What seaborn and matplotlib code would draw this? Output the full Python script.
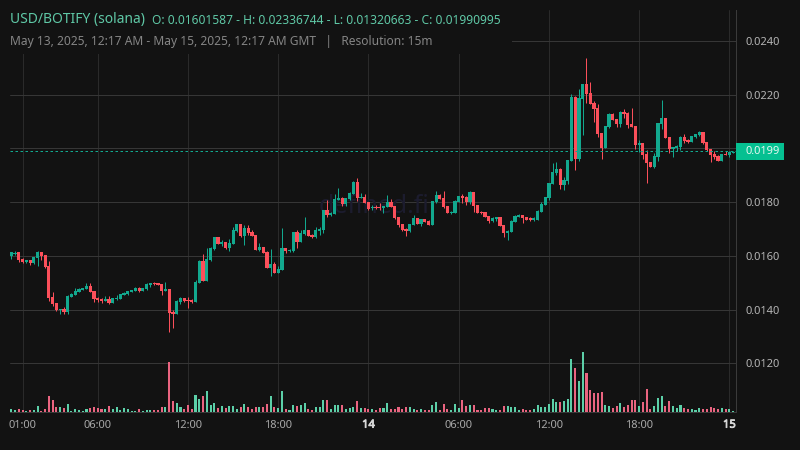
import numpy as np
import pandas as pd
import matplotlib
matplotlib.use('Agg')
import matplotlib.pyplot as plt
import matplotlib.patheffects as pe
from matplotlib.patches import Rectangle
import seaborn as sns

# 15 minute candles, prices in units of 0.0001
opens = [160.0,160.8,161.4,158.8,157.8,158.5,157.3,159.2,161.4,160.3,
         156.2,144.7,142.4,140.0,140.2,139.1,144.7,145.4,146.5,147.4,
         147.6,148.8,146.9,144.3,143.9,143.2,143.9,142.4,143.9,143.9,
         145.4,145.8,146.5,146.9,148.0,146.9,147.6,149.1,149.9,149.8,
         149.5,146.9,147.6,139.1,138.3,142.8,144.3,143.5,143.5,142.8,
         149.9,158.1,150.6,158.4,162.6,167.0,164.4,165.2,163.0,164.4,
         169.2,171.9,167.4,170.4,168.9,167.8,162.2,163.3,161.4,155.5,
         157.0,153.6,154.7,163.0,161.8,161.8,168.9,165.2,168.1,169.6,
         167.8,167.0,169.2,169.6,177.1,175.3,175.6,180.8,181.5,179.3,
         181.2,183.0,187.5,181.5,181.9,180.0,177.8,178.3,178.2,177.8,
         178.2,180.0,178.6,174.5,171.9,170.0,169.2,171.5,174.1,171.9,
         173.7,173.0,171.5,180.0,182.6,181.5,178.6,176.0,176.0,180.0,
         182.3,181.9,180.0,183.8,179.0,176.3,176.3,174.8,173.0,173.7,
         174.5,171.5,168.5,168.9,172.6,174.5,175.2,174.5,174.1,173.3,
         173.3,176.3,178.9,181.5,186.7,190.9,192.3,186.4,187.9,195.3,
         219.2,196.1,218.4,224.0,220.6,216.9,215.0,205.7,200.1,208.0,
         212.8,210.9,209.1,213.6,213.2,209.1,208.3,201.3,202.0,197.9,
         195.0,193.1,196.8,209.1,211.3,204.2,199.8,200.1,200.5,204.2,
         203.1,202.4,204.2,205.0,206.1,202.4,199.8,197.9,197.2,195.3,
         197.9,197.5,198.3]
highs = [161.4,161.8,161.4,159.2,158.5,158.5,159.6,161.8,161.4,160.3,
         158.1,146.5,142.4,140.2,140.9,145.4,146.2,148.0,148.0,148.0,
         149.9,149.9,146.9,144.7,144.3,145.0,145.0,144.3,145.4,145.8,
         146.5,146.9,147.3,148.4,148.4,148.0,149.9,149.9,150.3,149.8,
         149.5,150.3,147.6,139.8,143.5,144.7,144.3,144.7,143.9,151.0,
         158.5,160.7,162.9,163.3,167.0,167.0,165.9,165.2,166.3,170.7,
         171.9,171.9,171.5,171.5,169.6,167.8,164.8,163.3,161.8,162.6,
         157.7,156.2,170.4,163.0,162.6,168.9,169.6,169.6,174.5,169.6,
         168.1,170.7,170.7,177.1,180.8,176.3,183.0,185.3,181.9,181.5,
         183.8,187.9,189.0,183.4,183.0,180.0,179.0,179.0,179.7,178.6,
         182.6,181.2,178.6,174.5,171.9,170.4,171.9,175.2,174.1,173.7,
         173.7,173.3,180.4,184.1,183.0,184.1,178.6,176.7,180.8,182.3,
         183.0,182.3,184.1,183.8,179.0,176.7,176.3,174.8,174.5,174.5,
         174.5,171.5,169.6,173.3,175.2,175.6,175.2,174.5,174.5,174.5,
         177.1,180.0,181.9,187.1,194.6,194.9,192.7,189.3,195.7,220.3,
         219.5,222.1,224.0,233.7,224.7,217.7,216.5,205.7,208.3,213.2,
         213.2,210.9,213.9,214.7,213.6,215.0,208.3,203.1,202.0,199.4,
         195.0,198.3,209.5,218.0,211.3,204.2,200.5,201.3,204.6,205.4,
         203.5,204.6,205.4,206.5,206.1,202.4,199.8,199.0,197.6,197.9,
         199.0,199.0,199.0]
lows = [158.8,160.3,157.7,157.3,157.3,156.6,157.0,156.2,158.5,155.5,
        143.2,141.3,139.5,138.3,138.3,138.3,144.7,145.4,146.5,147.4,
        147.6,146.5,142.8,142.8,142.4,143.2,142.0,142.4,143.5,143.9,
        145.4,145.4,146.5,146.9,146.5,146.9,147.3,148.4,149.1,149.1,
        145.4,146.9,131.6,133.1,138.3,142.0,142.8,140.6,142.4,142.8,
        149.9,150.6,150.6,158.1,162.2,164.4,163.7,162.6,161.8,164.4,
        168.9,167.0,164.0,167.8,167.4,162.2,161.8,161.1,155.5,152.5,
        153.6,153.6,154.7,161.1,161.4,161.4,163.0,165.2,167.8,167.4,
        166.6,166.6,167.8,168.5,174.5,174.8,175.6,180.8,178.6,178.6,
        180.8,183.0,180.4,181.5,179.7,177.1,177.1,177.4,177.1,176.0,
        178.2,178.2,173.7,170.7,169.2,167.4,168.9,171.5,171.9,171.1,
        172.6,171.5,171.5,179.7,181.2,177.8,176.0,175.6,176.0,180.0,
        179.7,179.0,179.3,176.3,176.0,175.6,174.5,172.2,172.6,173.0,
        171.1,167.0,165.9,168.9,172.6,174.5,172.2,173.3,173.0,173.0,
        173.3,176.3,178.9,180.8,186.7,190.1,184.9,184.5,186.7,195.3,
        192.0,195.3,205.0,216.9,216.5,209.8,204.2,196.1,200.1,207.6,
        210.6,208.0,208.0,211.3,207.6,208.0,199.8,198.7,196.1,187.1,
        193.1,192.7,195.3,207.2,203.9,198.3,196.8,199.0,199.4,202.0,
        202.0,202.4,203.9,204.6,201.6,199.0,194.9,196.1,195.3,195.3,
        197.5,196.8,198.3]
closes = [161.4,161.2,158.5,157.7,158.5,157.3,159.6,161.4,160.0,155.8,
          144.3,142.0,139.8,140.2,139.1,145.0,145.8,146.9,147.6,148.0,
          148.8,146.5,143.9,143.5,143.2,143.9,142.4,144.3,144.3,145.8,
          146.2,146.9,147.3,148.0,146.9,148.0,149.5,149.9,149.5,149.1,
          146.9,147.6,138.7,138.3,143.2,144.3,143.2,143.2,142.8,150.3,
          158.1,150.6,158.8,163.0,167.0,164.4,165.2,163.0,164.8,169.6,
          171.9,167.4,170.4,168.5,167.4,162.2,163.3,161.1,155.5,157.0,
          153.6,155.1,163.0,161.8,162.2,168.9,165.2,168.5,169.6,167.4,
          167.0,169.6,170.0,177.1,175.2,176.0,181.2,181.5,179.3,181.5,
          183.4,187.5,181.5,181.9,179.7,177.4,178.2,177.8,177.8,178.6,
          180.0,178.2,174.1,171.5,169.6,169.2,171.9,174.1,171.9,173.7,
          172.6,171.5,180.4,182.6,181.2,178.2,176.0,176.3,180.4,182.3,
          181.5,180.0,183.8,178.6,176.0,176.0,174.5,173.0,174.1,174.5,
          171.1,168.5,169.2,173.0,174.8,175.2,174.1,173.3,173.3,174.1,
          176.7,179.3,181.9,187.1,191.2,192.3,186.4,188.2,195.7,219.2,
          196.1,218.8,224.0,220.3,216.5,214.7,205.4,200.1,208.3,212.8,
          210.6,209.1,213.6,212.8,208.7,208.0,201.3,202.0,197.5,194.6,
          193.1,197.2,209.5,211.3,203.9,199.8,200.5,200.9,204.2,202.8,
          202.4,204.6,205.4,206.1,202.0,199.4,197.5,196.8,195.3,197.9,
          197.5,198.7,198.7]
volumes = [9,6,9,6,3,6,6,18,3,9,
           48,36,15,15,12,24,3,9,6,3,
           9,12,15,12,9,9,18,9,15,6,
           12,9,3,3,9,3,6,6,6,6,
           15,15,150,33,27,15,9,21,9,51,
           39,48,63,21,27,12,18,12,18,18,
           9,15,24,15,9,15,15,15,24,48,
           15,12,63,9,6,21,18,21,27,9,
           6,15,15,36,36,9,21,21,21,9,
           12,15,33,12,12,9,9,6,12,12,
           27,9,9,15,9,15,15,9,6,9,
           6,6,21,30,6,24,9,6,24,12,
           36,18,21,21,6,6,12,12,9,6,
           6,18,18,15,15,6,9,6,6,9,
           21,15,15,24,39,30,30,33,39,159,
           132,93,180,117,66,57,57,60,21,18,
           12,18,27,15,21,36,36,18,30,69,
           9,18,42,48,18,33,18,12,21,12,
           9,9,6,12,9,9,15,12,9,12,
           9,9,3]

time_ticks = [3, 23, 47, 71, 95, 119, 143, 167, 191]
time_labels = ['01:00', '06:00', '12:00', '18:00', '14', '06:00', '12:00', '18:00', '15']
price_ticks = [0.0120, 0.0140, 0.0160, 0.0180, 0.0200, 0.0220, 0.0240]
price_labels = ['0.0120', '0.0140', '0.0160', '0.0180', '', '0.0220', '0.0240']
last_price = 0.01990995

BG = '#121212'
UP = '#12a88e'
DOWN = '#fb4f5a'
VOL_COLORS = {'up': '#5ccfa8', 'down': '#ea6480'}

sns.set_theme(style='dark', rc={'figure.facecolor': BG, 'axes.facecolor': BG, 'savefig.facecolor': BG})
plt.rcParams['font.family'] = ['Noto Sans', 'DejaVu Sans']

df = pd.DataFrame({'open': opens, 'high': highs, 'low': lows, 'close': closes, 'volume': volumes})
df[['open', 'high', 'low', 'close']] *= 1e-4
df['i'] = np.arange(len(df))
df['direction'] = np.where(df['close'] >= df['open'], 'up', 'down')
df['color'] = np.where(df['close'] >= df['open'], UP, DOWN)

fig = plt.figure(figsize=(8, 4.5), dpi=100)
ax = fig.add_axes([10 / 800, 1 - 412 / 450, 726.5 / 800, 402 / 450])

# volume goes on its own axis along the bottom
ax_vol = ax.twinx()
sns.barplot(data=df, x='i', y='volume', hue='direction', palette=VOL_COLORS, native_scale=True,
            dodge=False, width=0.55, saturation=1, linewidth=0, legend=False, ax=ax_vol)
ax_vol.set_ylim(0, 1206)
ax_vol.set_ylabel('')
ax_vol.set_yticks([])
ax_vol.patch.set_visible(False)

# watermark under the candles
ax.text(0.501, 0.51, 'defined.fi', transform=ax.transAxes, color='#1c1c2e', fontsize=18,
        ha='center', va='center', zorder=1.5)

# candles
wicks = ax.vlines(df['i'], df['low'], df['high'], colors=df['color'], linewidth=0.72, zorder=3)
wicks.set_snap(True)
ax.bar(df['i'], (df['close'] - df['open']).abs().clip(lower=1e-5), bottom=df[['open', 'close']].min(axis=1),
       width=0.85, color=df['color'], linewidth=0, zorder=4)

ax.axhline(last_price, color=UP, linewidth=0.72, dashes=(2.5, 2.5), zorder=5)

ax.set_xlim(-0.346, 192.9)
ax.set_ylim(0.010184, 0.025154)
ax.set_xticks(time_ticks)
ax.set_xticklabels(time_labels)
ax.yaxis.tick_right()
ax.set_yticks(price_ticks)
ax.set_yticklabels(price_labels)
ax.set_xlabel('')
ax.grid(True, axis='x', color='#2a2a2a', linewidth=0.72)
ax.grid(True, axis='y', color='#363636', linewidth=0.72)
ax.set_axisbelow(True)
ax.tick_params(axis='x', length=0, pad=5.5, labelsize=8, labelcolor='#a8a8a8')
ax.tick_params(axis='y', length=0, pad=6.8, labelsize=8, labelcolor='#b4b4b4')
# day labels are bold in the original, the stroke thickens them
for lab in ax.get_xticklabels():
    if lab.get_text() in ('14', '15'):
        lab.set_color('#d8d8d8')
        lab.set_path_effects([pe.withStroke(linewidth=0.6, foreground='#d8d8d8')])

for name, spine in ax.spines.items():
    spine.set_visible(name in ('right', 'bottom'))
    spine.set_color('#3a3a3a')
    spine.set_linewidth(0.72)
for spine in ax_vol.spines.values():
    spine.set_visible(False)
ax_vol.tick_params(length=0)

# header box hides the grid behind the title
ax_vol.add_patch(Rectangle((0, (412 - 54) / 402), 502 / 726.5, 44 / 402, transform=ax.transAxes,
                           facecolor=BG, edgecolor='none', zorder=10))

# header text
fig.text(10 / 800, 1 - 20 / 450, 'USD/BOTIFY (solana)', color='#5fc8a6', fontsize=10, va='center')
fig.text(152 / 800, 1 - 20.5 / 450, 'O: 0.01601587 - H: 0.02336744 - L: 0.01320663 - C: 0.01990995',
         color='#5fc8a6', fontsize=8.65, va='center')
fig.text(10 / 800, 1 - 41 / 450, 'May 13, 2025, 12:17 AM - May 15, 2025, 12:17 AM GMT   |   Resolution: 15m',
         color='#858585', fontsize=8.65, va='center')

# last price tag
fig.add_artist(Rectangle((736 / 800, 1 - 160 / 450), 47.5 / 800, 17 / 450, transform=fig.transFigure,
                         facecolor='#05c091', edgecolor='none'))
fig.text(746 / 800, 1 - 151.5 / 450, '0.0199', color='#e6f7f0', fontsize=8, va='center')

fig.savefig('out.png', dpi=100)
